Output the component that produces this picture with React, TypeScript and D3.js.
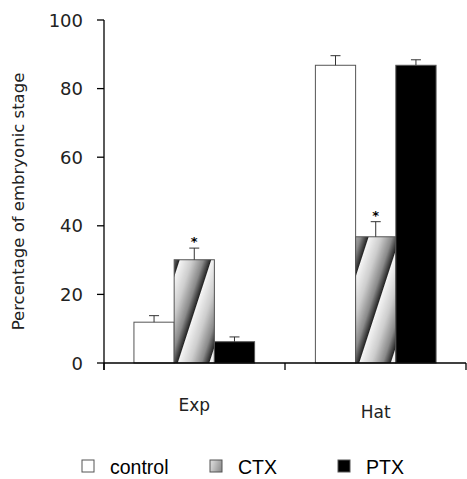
import React from 'react'
import * as d3 from 'd3'

const categories = ['Exp', 'Hat']
const series = ['control', 'CTX', 'PTX']
const means = [
  [11.9, 30.1, 6.2],
  [86.8, 36.8, 86.8],
]
const errors = [
  [1.9, 3.4, 1.4],
  [2.8, 4.4, 1.6],
]
const stars = [
  [false, true, false],
  [false, true, false],
]
const yTicks = [0, 20, 40, 60, 80, 100]

const W = 467
const H = 479
const left = 104
const right = 466
const top = 20
const bottom = 363

const fills = ['#ffffff', 'url(#ctxStripe)', '#000000']

const App = () => {
  const y = d3.scaleLinear().domain([0, 100]).range([bottom, top])
  const x0 = d3.scaleBand().domain(categories).range([left, right]).paddingInner(0.335).paddingOuter(0.165)
  const x1 = d3.scaleBand().domain(series).range([0, x0.bandwidth()])
  const labelFont = '"DejaVu Sans", "Noto Sans", sans-serif'

  return (
    <svg width={W} height={H} style={{ position: 'absolute', left: 0, top: 0, background: '#fff' }}>
      <defs>
        <linearGradient id="stripeGrad" x1="0" x2="1" y1="0" y2="0">
          <stop offset="0" stopColor="#f6f6f6" />
          <stop offset="0.4" stopColor="#cdcdcd" />
          <stop offset="0.75" stopColor="#8a8a8a" />
          <stop offset="1" stopColor="#1e1e1e" />
        </linearGradient>
        <pattern id="ctxStripe" patternUnits="userSpaceOnUse" width={30} height={80} patternTransform="translate(4,0) rotate(18)">
          <rect width={30} height={80} fill="url(#stripeGrad)" />
        </pattern>
      </defs>

      {/* y axis */}
      <line x1={left} x2={left} y1={top} y2={bottom + 7} stroke="#000" strokeWidth={1.3} />
      {yTicks.map(t => (
        <g key={t}>
          <line x1={left - 7} x2={left} y1={y(t)} y2={y(t)} stroke="#000" strokeWidth={1.3} />
          <text x={83} y={y(t) + 6.5} textAnchor="end" fontSize={18} fontFamily={labelFont} fill="#222">{t}</text>
        </g>
      ))}
      <text transform={`translate(24, ${(top + bottom) / 2 + 10}) rotate(-90)`} textAnchor="middle" fontSize={16.5} fontFamily={labelFont} fill="#222">
        Percentage of embryonic stage
      </text>

      {/* bars */}
      {categories.map((c, ci) => (
        <g key={c} transform={`translate(${x0(c)}, 0)`}>
          {series.map((s, si) => {
            const v = means[ci][si]
            const e = errors[ci][si]
            const bx = x1(s)!
            const bw = x1.bandwidth()
            const cx = bx + bw / 2
            return (
              <g key={s}>
                <rect x={bx} y={y(v)} width={bw} height={bottom - y(v)} fill={fills[si]} stroke="#555" strokeWidth={1} />
                <line x1={cx} x2={cx} y1={y(v)} y2={y(v + e)} stroke="#333" strokeWidth={1} />
                <line x1={cx - 5} x2={cx + 5} y1={y(v + e)} y2={y(v + e)} stroke="#333" strokeWidth={1} />
                {stars[ci][si] && (
                  <text x={cx} y={y(v + e) - 2} textAnchor="middle" fontSize={13} fontWeight="bold" fontFamily={labelFont} fill="#000">*</text>
                )}
              </g>
            )
          })}
        </g>
      ))}

      {/* x axis */}
      <line x1={left} x2={right} y1={bottom} y2={bottom} stroke="#000" strokeWidth={1.3} />
      {[left, x0(categories[1])! - (x0.step() - x0.bandwidth()) / 2, right].map((tx, i) => (
        <line key={i} x1={tx} x2={tx} y1={bottom} y2={bottom + 7} stroke="#000" strokeWidth={1.3} />
      ))}
      <text x={x0('Exp')! + x0.bandwidth() / 2} y={411} textAnchor="middle" fontSize={17} fontFamily={labelFont} fill="#222">Exp</text>
      <text x={x0('Hat')! + x0.bandwidth() / 2} y={418} textAnchor="middle" fontSize={17} fontFamily={labelFont} fill="#222">Hat</text>

      {/* legend */}
      {series.map((s, i) => {
        const lx = 82 + i * 128
        return (
          <g key={s}>
            <rect x={lx} y={460} width={12} height={12} fill={fills[i]} stroke="#555" strokeWidth={1} />
            <text x={lx + 28} y={474} fontSize={19.5} fontFamily='"Liberation Sans", Arial, sans-serif' fill="#000">{s}</text>
          </g>
        )
      })}
    </svg>
  )
}

export default App
